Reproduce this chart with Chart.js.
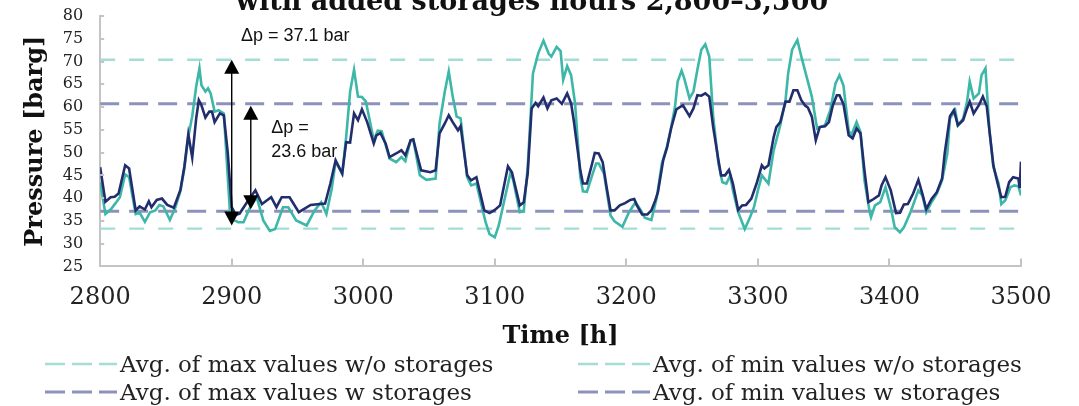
<!DOCTYPE html>
<html>
<head>
<meta charset="utf-8">
<script src="https://cdn.jsdelivr.net/npm/chart.js@4.4.1/dist/chart.umd.min.js"></script>
<style>
  html, body { margin: 0; padding: 0; background: #fff; }
  #wrap { position: relative; width: 1079px; height: 406px; overflow: hidden; }
  #legend { position: absolute; left: 0; top: 0; width: 1079px; height: 406px; pointer-events: none;
            font-family: "DejaVu Serif", serif; font-size: 23px; color: #222; }
  .item { position: absolute; display: flex; align-items: center; white-space: nowrap; height: 28px; }
  .item svg { margin-right: 3px; }
</style>
</head>
<body>
<div id="wrap">
  <canvas id="chart" width="1079" height="406"></canvas>
  <div id="legend"></div>
</div>
<script>
// time axis and pressure axis ticks
const timeTicks = [2800, 2900, 3000, 3100, 3200, 3300, 3400, 3500];
const pressureTicks = [25, 30, 35, 40, 45, 50, 55, 60, 65, 70, 75, 80];

// pressure w/o storages
const hoursWithout = [2800, 2804, 2808, 2812, 2815, 2819, 2822, 2827, 2830, 2834, 2838, 2842, 2845, 2848, 2853, 2857,
  2861, 2864, 2867, 2870, 2873, 2875.5, 2877, 2880, 2882, 2884, 2887, 2890, 2894, 2899, 2902, 2905, 2909, 2914, 2919,
  2924, 2929, 2933, 2939, 2943, 2949, 2957, 2963, 2968, 2972, 2976, 2979, 2984, 2987, 2990, 2993, 2996, 2999, 3002,
  3008, 3011, 3014, 3020, 3025, 3029, 3032, 3036, 3038, 3043, 3048, 3055, 3058, 3062, 3065, 3068, 3071, 3074, 3079,
  3082, 3086, 3093, 3096, 3100, 3103, 3112, 3114, 3119, 3122, 3125, 3129, 3133, 3137, 3141, 3143, 3147, 3150, 3152,
  3155, 3158, 3161, 3165, 3167, 3170, 3174, 3177, 3179, 3183, 3188, 3191, 3197, 3202, 3207, 3211, 3214, 3219, 3223,
  3227, 3231, 3234, 3237, 3239, 3242, 3244, 3248, 3251, 3254, 3257, 3260, 3263, 3266, 3270, 3273, 3276, 3279, 3281,
  3285, 3290, 3294, 3297, 3300, 3303, 3308, 3312, 3317, 3321, 3323, 3326, 3330, 3333, 3337, 3341, 3345, 3347, 3351,
  3355, 3359, 3362, 3365, 3369, 3371, 3375, 3378, 3381, 3385, 3386, 3389, 3393, 3397, 3401, 3404, 3408, 3411, 3416,
  3422, 3425, 3428, 3432, 3436, 3440, 3444, 3446, 3450, 3452, 3456, 3459, 3461, 3464, 3468, 3470, 3473, 3476, 3479,
  3483, 3485, 3488, 3492, 3495, 3498, 3500];
const pressureWithout = [43.5, 36.5, 37.5, 39.0, 40.2, 45.2, 44.6, 36.5, 36.8, 34.8, 36.9, 37.3, 38.5, 38.2, 35.2, 37.8,
  41.5, 46.5, 53.5, 58.0, 64.5, 68.5, 64.8, 63.4, 64.1, 63.0, 59.0, 59.3, 58.6, 35.4, 35.1, 34.7, 34.7, 38.0, 40.2,
  35.1, 32.8, 33.2, 38.0, 38.0, 35.1, 34.0, 37.3, 39.1, 36.5, 42.0, 48.0, 45.4, 53.4, 63.4, 68.2, 62.3, 62.2, 61.2,
  52.7, 54.8, 54.7, 48.7, 47.9, 49.0, 48.1, 52.7, 52.9, 45.0, 44.0, 44.3, 56.4, 63.4, 67.8, 62.3, 57.9, 57.5, 44.6,
  42.8, 43.2, 34.7, 32.1, 31.4, 34.0, 45.7, 43.9, 36.9, 37.1, 46.8, 67.4, 71.8, 74.6, 71.7, 71.1, 73.2, 72.3, 66.0,
  69.0, 67.0, 60.8, 44.6, 41.5, 41.4, 45.0, 47.6, 47.6, 45.4, 36.2, 34.9, 33.7, 36.9, 39.1, 37.3, 35.7, 35.2, 39.9,
  47.6, 51.4, 55.5, 60.1, 65.6, 68.0, 66.3, 61.9, 63.4, 68.2, 72.6, 73.8, 71.1, 57.9, 47.6, 43.5, 43.2, 45.0, 41.7,
  36.9, 33.2, 35.8, 38.0, 41.7, 45.0, 43.2, 50.5, 56.0, 61.5, 67.4, 72.6, 74.7, 71.1, 66.7, 62.3, 55.3, 55.6, 56.0,
  59.3, 65.2, 67.0, 64.8, 54.9, 53.8, 56.7, 54.5, 43.9, 36.9, 35.8, 38.4, 39.1, 42.4, 38.0, 33.6, 32.5, 33.6, 36.9,
  41.7, 40.6, 36.9, 39.1, 41.0, 43.9, 49.8, 57.5, 59.3, 56.0, 57.5, 61.2, 65.6, 61.9, 63.0, 67.0, 68.5, 54.9, 46.8,
  43.2, 38.7, 39.5, 42.4, 42.8, 42.6, 40.6];

// pressure w storages
const hoursWith = [2800, 2804, 2808, 2811, 2814, 2819, 2822, 2827, 2830, 2834, 2837, 2839, 2843, 2847, 2851, 2856,
  2861, 2864, 2867, 2870, 2873, 2875, 2877, 2880, 2883, 2885, 2887, 2891, 2894, 2897, 2900, 2903, 2906, 2911, 2918,
  2923, 2930, 2934, 2938, 2944, 2951, 2960, 2967, 2971, 2975, 2979, 2984, 2987, 2990, 2993, 2996, 2999, 3003, 3008,
  3010, 3013, 3017, 3020, 3025, 3029, 3032, 3036, 3038, 3042, 3044, 3051, 3055, 3058, 3062, 3065, 3068, 3072, 3074,
  3079, 3082, 3086, 3092, 3096, 3100, 3104, 3110, 3113, 3119, 3122, 3125, 3128, 3131, 3133, 3137, 3140, 3143, 3147,
  3151, 3155, 3158, 3160, 3165, 3167, 3170, 3174, 3176, 3179, 3182, 3185, 3188, 3191, 3195, 3199, 3203, 3206, 3208,
  3212, 3216, 3219, 3222, 3224, 3228, 3231, 3234, 3238, 3243, 3248, 3251, 3254, 3257, 3260, 3263, 3266, 3270, 3272,
  3275, 3278, 3281, 3285, 3288, 3291, 3295, 3299, 3303, 3305, 3308, 3312, 3314, 3317, 3321, 3324, 3327, 3330, 3333,
  3336, 3338, 3341, 3344, 3347, 3351, 3354, 3357, 3360, 3362, 3365, 3369, 3372, 3375, 3378, 3381, 3384, 3388, 3392,
  3394, 3397, 3401, 3405, 3408, 3411, 3414, 3418, 3422, 3425, 3428, 3432, 3436, 3440, 3442, 3446, 3449, 3452, 3456,
  3459, 3461, 3464, 3468, 3471, 3474, 3476, 3479, 3482, 3485, 3488, 3491, 3494, 3498, 3499, 3500];
const pressureWith = [46.8, 39.2, 40.2, 40.3, 41.0, 47.2, 46.5, 37.3, 38.2, 37.5, 39.3, 38.0, 39.6, 39.9, 38.5, 37.9,
  41.8, 46.9, 54.0, 48.9, 57.5, 61.5, 60.4, 57.7, 59.0, 59.0, 56.7, 58.6, 58.2, 50.0, 38.0, 36.3, 36.6, 38.8, 41.7,
  38.7, 40.2, 38.0, 40.2, 40.2, 36.9, 38.5, 38.7, 38.8, 43.2, 48.3, 45.4, 52.3, 52.2, 58.6, 57.1, 59.5, 56.7, 52.0,
  53.8, 54.3, 52.0, 49.0, 49.8, 50.5, 49.4, 52.7, 52.9, 48.3, 46.1, 45.7, 46.1, 54.2, 56.4, 58.2, 56.7, 54.9, 55.8,
  45.0, 43.9, 44.6, 37.3, 36.7, 37.4, 38.4, 47.0, 45.7, 38.4, 39.1, 45.4, 59.7, 60.9, 60.2, 62.1, 59.7, 61.5, 61.9,
  60.7, 63.0, 60.8, 57.1, 46.1, 43.2, 43.2, 47.6, 49.9, 49.8, 47.9, 42.4, 37.3, 37.3, 38.4, 38.9, 39.6, 39.8, 38.4,
  36.4, 36.4, 37.3, 39.5, 41.3, 48.3, 51.2, 55.3, 59.5, 60.4, 58.0, 59.7, 62.6, 62.5, 63.0, 62.3, 55.6, 48.3, 45.0,
  45.0, 46.2, 43.2, 37.4, 38.4, 38.5, 39.9, 43.2, 47.2, 46.5, 47.2, 53.4, 55.6, 56.7, 61.2, 61.2, 63.7, 63.7, 61.5,
  60.3, 59.9, 57.9, 52.7, 55.6, 55.8, 56.7, 60.4, 62.6, 62.6, 60.7, 53.8, 53.1, 55.3, 54.2, 46.1, 39.1, 39.8, 40.6,
  42.8, 44.6, 41.7, 36.7, 36.8, 38.6, 38.7, 41.0, 44.0, 41.0, 37.6, 39.8, 41.3, 44.3, 49.8, 58.0, 59.3, 56.0, 57.1,
  59.7, 61.2, 58.6, 60.4, 62.3, 60.1, 54.9, 47.2, 43.5, 40.2, 40.3, 43.5, 44.6, 44.3, 42.2, 48.0];

// averages of the daily extremes
const avgMaxWithout = 70.4;
const avgMinWithout = 33.3;
const avgMaxWith = 60.7;
const avgMinWith = 37.1;

const TEAL = '#3db7a8';
const NAVY = '#222d6e';
const LIGHT_TEAL = '#a3ddd5';
const GREY_BLUE = '#8d92ba';
const SERIF = '"DejaVu Serif", Georgia, serif';

function toPoints(xs, ys) {
  return xs.map((x, i) => ({ x: x, y: ys[i] }));
}
function flat(v) {
  return [{ x: timeTicks[0], y: v }, { x: timeTicks[timeTicks.length - 1], y: v }];
}

const datasets = [
  { label: 'With storages', data: toPoints(hoursWith, pressureWith), borderColor: NAVY, borderWidth: 2.6, legend: false },
  { label: 'Without storages', data: toPoints(hoursWithout, pressureWithout), borderColor: TEAL, borderWidth: 2.6, legend: false },
  { label: 'Avg. of max values w/o storages', data: flat(avgMaxWithout), borderColor: LIGHT_TEAL, borderWidth: 2.5, borderDash: [15, 14] },
  { label: 'Avg. of min values w/o storages', data: flat(avgMinWithout), borderColor: LIGHT_TEAL, borderWidth: 2.3, borderDash: [15, 14] },
  { label: 'Avg. of max values w storages', data: flat(avgMaxWith), borderColor: GREY_BLUE, borderWidth: 3, borderDash: [19, 10] },
  { label: 'Avg. of min values w storages', data: flat(avgMinWith), borderColor: GREY_BLUE, borderWidth: 3, borderDash: [19, 10] }
];
datasets.forEach(d => { d.pointRadius = 0; d.fill = false; d.tension = 0; d.borderCapStyle = 'butt'; });

// chart title, only its lower part shows at the top edge
const topTitle = {
  id: 'topTitle',
  afterDraw(chart) {
    const ctx = chart.ctx;
    ctx.save();
    ctx.font = 'bold 27px ' + SERIF;
    ctx.fillStyle = '#111';
    ctx.textAlign = 'center';
    ctx.textBaseline = 'alphabetic';
    ctx.fillText('with added storages hours 2,800\u20133,500', 532, 9.5);
    ctx.restore();
  }
};

// inside tick marks on both axes
const innerTicks = {
  id: 'innerTicks',
  afterDraw(chart) {
    const { ctx, scales: { x, y } } = chart;
    ctx.save();
    ctx.strokeStyle = '#c4c4c4';
    ctx.lineWidth = 2;
    timeTicks.slice(1).forEach(t => {
      const px = Math.round(x.getPixelForValue(t));
      ctx.beginPath(); ctx.moveTo(px, y.bottom); ctx.lineTo(px, y.bottom - 8); ctx.stroke();
    });
    pressureTicks.slice(1).forEach(p => {
      const py = Math.round(y.getPixelForValue(p));
      ctx.beginPath(); ctx.moveTo(x.left, py); ctx.lineTo(x.left + 4, py); ctx.stroke();
    });
    ctx.restore();
  }
};

// delta-p arrows and labels
function drawArrow(ctx, px, top, bottom) {
  const hw = 7.5, hh = 14;
  ctx.beginPath(); ctx.moveTo(px, top + hh - 1); ctx.lineTo(px, bottom - hh + 1); ctx.stroke();
  ctx.beginPath(); ctx.moveTo(px, top); ctx.lineTo(px - hw, top + hh); ctx.lineTo(px + hw, top + hh); ctx.closePath(); ctx.fill();
  ctx.beginPath(); ctx.moveTo(px, bottom); ctx.lineTo(px - hw, bottom - hh); ctx.lineTo(px + hw, bottom - hh); ctx.closePath(); ctx.fill();
}
const deltaP = {
  id: 'deltaP',
  afterDatasetsDraw(chart) {
    const { ctx, scales: { x, y } } = chart;
    ctx.save();
    ctx.strokeStyle = '#000';
    ctx.fillStyle = '#000';
    ctx.lineWidth = 1.4;
    drawArrow(ctx, x.getPixelForValue(2900), y.getPixelForValue(avgMaxWithout), y.getPixelForValue(avgMinWithout) - 3);
    drawArrow(ctx, x.getPixelForValue(2914.5), y.getPixelForValue(avgMaxWith) + 2, y.getPixelForValue(avgMinWith) - 2);
    ctx.font = '18px "Liberation Sans", Arial, sans-serif';
    ctx.textBaseline = 'middle';
    ctx.textAlign = 'left';
    ctx.fillStyle = '#111';
    ctx.fillText('\u0394p = ' + (avgMaxWithout - avgMinWithout).toFixed(1) + ' bar', x.getPixelForValue(2907), y.getPixelForValue(75.6));
    ctx.fillText('\u0394p =', x.getPixelForValue(2930), y.getPixelForValue(55.3));
    ctx.fillText((avgMaxWith - avgMinWith).toFixed(1) + ' bar', x.getPixelForValue(2930), y.getPixelForValue(50.2));
    ctx.restore();
  }
};

const chart = new Chart(document.getElementById('chart'), {
  type: 'line',
  data: { datasets: datasets },
  options: {
    responsive: false,
    animation: false,
    layout: { padding: { left: 20, right: 58, top: 16, bottom: 55 } },
    plugins: {
      legend: { display: false },
      tooltip: { enabled: false },
      title: { display: false }
    },
    scales: {
      x: {
        type: 'linear',
        min: 2800,
        max: 3500,
        afterBuildTicks: s => { s.ticks = timeTicks.map(v => ({ value: v })); },
        grid: { display: false, drawTicks: false },
        border: { display: true, color: '#c4c4c4', width: 2 },
        ticks: { padding: 17, autoSkip: false, maxRotation: 0, color: '#222',
                 font: { family: SERIF, size: 24 }, callback: v => String(v) },
        title: { display: true, text: 'Time [h]', color: '#111', padding: { top: -7, bottom: 0 },
                 font: { family: SERIF, size: 24, weight: 'bold' } }
      },
      y: {
        min: 25,
        max: 80,
        afterBuildTicks: s => { s.ticks = pressureTicks.map(v => ({ value: v })); },
        afterFit: s => { s.paddingTop = 0; },
        grid: { display: false, drawTicks: false },
        border: { display: true, color: '#c4c4c4', width: 2 },
        ticks: { padding: 17, autoSkip: false, color: '#222', font: { family: SERIF, size: 16 },
                 callback: v => String(v) },
        title: { display: true, text: 'Pressure [barg]', color: '#111', padding: { top: 1, bottom: -4 },
                 font: { family: SERIF, size: 24, weight: 'bold' } }
      }
    }
  },
  plugins: [innerTicks, deltaP, topTitle]
});

// two-column legend built from the dashed datasets
const legendBox = document.getElementById('legend');
const slots = [
  { left: 45, top: 350 }, { left: 578, top: 350 },
  { left: 45, top: 378 }, { left: 578, top: 378 }
];
const sampleWidth = 72;
chart.data.datasets.filter(d => d.legend !== false).forEach((d, i) => {
  const s = slots[i];
  const item = document.createElement('div');
  item.className = 'item';
  item.style.left = s.left + 'px';
  item.style.top = s.top + 'px';
  item.innerHTML = '<svg width="' + sampleWidth + '" height="6"><line x1="0" y1="3" x2="' + sampleWidth + '" y2="3" stroke="' +
    d.borderColor + '" stroke-width="' + d.borderWidth + '" stroke-dasharray="20 7"/></svg>' +
    '<span></span>';
  item.querySelector('span').textContent = d.label;
  legendBox.appendChild(item);
});
</script>
</body>
</html>
